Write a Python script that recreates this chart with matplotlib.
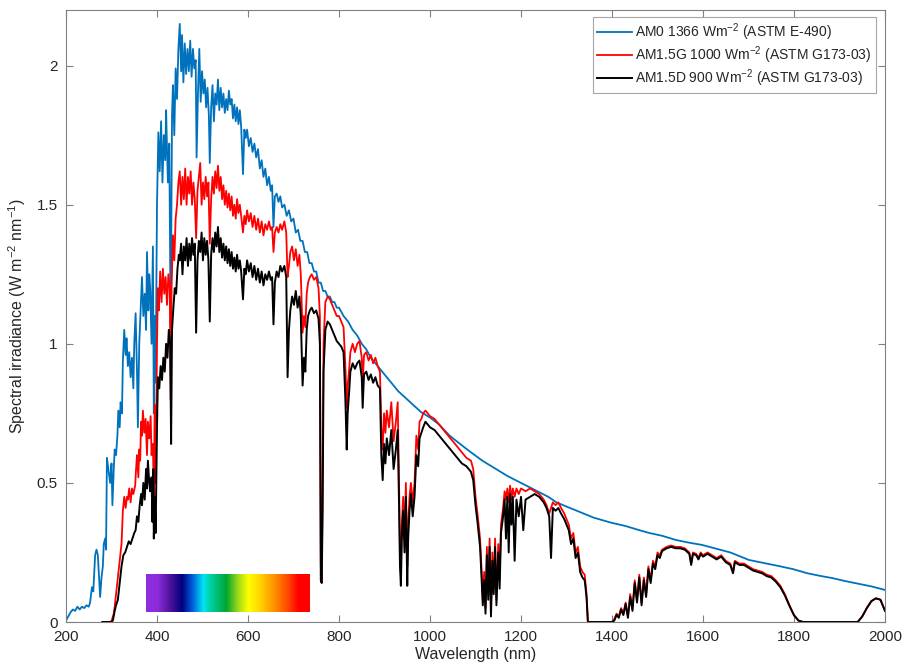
import matplotlib
matplotlib.use("Agg")
import matplotlib.pyplot as plt
import numpy as np
from matplotlib.colors import LinearSegmentedColormap

plt.rcParams['font.family'] = ['Liberation Sans', 'DejaVu Sans']
plt.rcParams['mathtext.fontset'] = 'custom'
plt.rcParams['mathtext.rm'] = 'Liberation Sans'
plt.rcParams['mathtext.default'] = 'regular'

# ---------------- data ----------------
am0_wl = [200, 205, 210, 215, 220, 225, 230, 235, 240, 245, 250, 253, 257, 260, 264, 267, 270, 273, 275, 278,
          281, 283, 286, 288, 290, 293, 297, 300, 302, 305, 307, 310, 313, 315, 318, 320, 323, 325, 328, 331,
          333, 336, 339, 342, 345, 348, 350, 353, 356, 358, 361, 364, 367, 370, 373, 376, 378, 381, 383, 385,
          388, 391, 393, 395, 397, 400, 403, 406, 409, 412, 415, 418, 420, 422, 424, 427, 430, 433, 435, 438,
          441, 444, 447, 450, 453, 455, 458, 461, 464, 467, 470, 473, 476, 479, 482, 485, 487, 490, 493, 496,
          499, 502, 505, 508, 511, 514, 516, 519, 522, 525, 528, 531, 534, 537, 540, 543, 546, 549, 552, 555,
          558, 561, 564, 567, 570, 573, 576, 579, 582, 585, 589, 592, 595, 598, 602, 606, 610, 614, 618, 622,
          626, 630, 634, 638, 642, 646, 650, 653, 656, 659, 663, 667, 671, 675, 680, 685, 690, 695, 700, 705,
          710, 715, 720, 725, 730, 735, 740, 745, 750, 755, 760, 765, 770, 775, 780, 785, 790, 795, 800, 810,
          820, 830, 840, 850, 860, 870, 880, 890, 900, 910, 920, 930, 940, 950, 960, 970, 980, 990, 1000, 1020,
          1043, 1070, 1090, 1115, 1140, 1170, 1200, 1230, 1260, 1278, 1300, 1330, 1360, 1398, 1430, 1460, 1482,
          1510, 1540, 1570, 1598, 1630, 1660, 1701, 1740, 1770, 1798, 1830, 1860, 1884, 1910, 1940, 1970, 1994, 2000]
am0_val = [0.005, 0.02, 0.035, 0.045, 0.04, 0.055, 0.045, 0.055, 0.05, 0.06, 0.055, 0.07, 0.125, 0.11, 0.24, 0.26, 0.24, 0.15, 0.09, 0.16,
           0.2, 0.28, 0.3, 0.26, 0.59, 0.55, 0.5, 0.57, 0.42, 0.55, 0.62, 0.6, 0.67, 0.76, 0.7, 0.79, 0.75, 0.94, 1.05, 0.96,
           1.02, 0.92, 0.97, 0.88, 0.95, 0.84, 1.0, 1.11, 0.9, 0.7, 1.0, 1.12, 1.24, 1.1, 1.18, 1.05, 1.33, 1.12, 1.25, 1.2,
           1.0, 1.35, 0.75, 1.1, 0.86, 1.5, 1.76, 1.62, 1.8, 1.58, 1.75, 1.66, 1.84, 1.7, 1.58, 1.72, 1.05, 1.82, 1.93, 1.75,
           1.99, 1.88, 2.06, 2.15, 1.98, 2.11, 1.94, 2.08, 1.97, 2.06, 1.98, 2.09, 1.96, 2.06, 1.99, 2.02, 1.67, 1.9, 2.06, 1.87,
           1.98, 1.9, 1.95, 1.85, 1.92, 1.82, 1.65, 1.85, 1.93, 1.8, 1.9, 1.86, 1.95, 1.84, 1.92, 1.85, 1.9, 1.83, 1.88, 1.84,
           1.91, 1.86, 1.88, 1.81, 1.86, 1.8, 1.85, 1.79, 1.84, 1.78, 1.61, 1.77, 1.74, 1.77, 1.71, 1.74, 1.69, 1.72, 1.67, 1.7,
           1.63, 1.66, 1.6, 1.63, 1.57, 1.6, 1.55, 1.57, 1.42, 1.53, 1.54, 1.51, 1.53, 1.49, 1.5, 1.46, 1.48, 1.44, 1.45, 1.4,
           1.41, 1.37, 1.37, 1.33, 1.33, 1.29, 1.29, 1.26, 1.26, 1.22, 1.22, 1.19, 1.19, 1.17, 1.17, 1.15, 1.15, 1.13, 1.13, 1.1,
           1.08, 1.05, 1.03, 1.0, 0.98, 0.95, 0.93, 0.91, 0.89, 0.87, 0.85, 0.83, 0.815, 0.8, 0.785, 0.77, 0.755, 0.745, 0.735, 0.71,
           0.67, 0.635, 0.61, 0.58, 0.555, 0.525, 0.5, 0.475, 0.45, 0.43, 0.415, 0.395, 0.375, 0.357, 0.345, 0.33, 0.32,
           0.31, 0.295, 0.285, 0.277, 0.263, 0.25, 0.223, 0.21, 0.2, 0.19, 0.175, 0.165, 0.158, 0.148, 0.138, 0.128, 0.118, 0.115]

g_wl = [280, 290, 295, 300, 305, 307, 310, 314, 318, 322, 325, 328, 331, 334, 336, 339, 342, 345, 348, 352,
        354, 356, 359, 361, 363, 365, 367, 369, 372, 375, 378, 380, 383, 386, 388, 391, 393, 395, 397, 400,
        402, 404, 407, 410, 413, 416, 419, 422, 425, 428, 430, 432, 435, 438, 441, 444, 447, 450, 453, 456,
        459, 462, 465, 468, 471, 474, 477, 480, 483, 486, 489, 492, 495, 498, 501, 504, 507, 510, 513, 516,
        519, 522, 525, 528, 531, 534, 537, 540, 543, 546, 549, 552, 555, 558, 561, 564, 567, 570, 573, 576,
        579, 582, 585, 589, 592, 595, 598, 602, 606, 610, 614, 618, 622, 626, 630, 634, 638, 642, 646, 650,
        653, 656, 659, 663, 667, 671, 675, 680, 684, 687, 690, 693, 697, 701, 705, 709, 713, 716, 720, 723,
        726, 729, 732, 736, 740, 745, 750, 755, 758, 760, 762, 764, 766, 770, 775, 780, 785, 790, 795, 800,
        805, 810, 814, 817, 819, 822, 825, 830, 835, 840, 845, 850, 852, 855, 860, 865, 870, 875, 880, 885,
        890, 893, 896, 899, 902, 905, 910, 915, 920, 925, 929, 932, 934, 936, 938, 941, 944, 947, 950, 952,
        955, 958, 962, 966, 970, 974, 977, 981, 985, 990, 995, 1000, 1010, 1020, 1030, 1040, 1050, 1060, 1070, 1080,
        1090, 1095, 1100, 1105, 1110, 1113, 1116, 1119, 1122, 1125, 1128, 1131, 1134, 1137, 1140, 1143, 1146, 1150, 1153, 1156,
        1160, 1164, 1167, 1170, 1173, 1176, 1179, 1182, 1186, 1190, 1195, 1200, 1210, 1220, 1230, 1240, 1250, 1256, 1262, 1266,
        1270, 1276, 1282, 1288, 1295, 1300, 1305, 1310, 1315, 1320, 1325, 1330, 1335, 1340, 1344, 1347, 1400, 1405, 1410, 1415,
        1420, 1425, 1430, 1435, 1440, 1445, 1450, 1455, 1460, 1465, 1470, 1475, 1480, 1485, 1490, 1495, 1500, 1505, 1510, 1520,
        1530, 1540, 1550, 1560, 1570, 1574, 1578, 1585, 1590, 1595, 1600, 1610, 1620, 1630, 1640, 1650, 1660, 1666, 1670, 1680,
        1690, 1700, 1710, 1720, 1730, 1740, 1750, 1760, 1770, 1780, 1790, 1800, 1810, 1820, 1940, 1945, 1950, 1960, 1970, 1980,
        1990, 1995, 2000]
g_val = [0.0, 0.0, 0.0, 0.003, 0.03, 0.055, 0.1, 0.16, 0.22, 0.28, 0.4, 0.45, 0.41, 0.45, 0.44, 0.48, 0.43, 0.48, 0.46, 0.49,
         0.55, 0.6, 0.52, 0.62, 0.58, 0.72, 0.67, 0.76, 0.68, 0.73, 0.6, 0.72, 0.66, 0.74, 0.6, 0.64, 0.45, 0.78, 0.5, 1.0,
         1.2, 1.12, 1.26, 1.15, 1.27, 1.18, 1.24, 1.14, 1.25, 1.2, 0.8, 1.2, 1.39, 1.3, 1.45, 1.5, 1.58, 1.62, 1.5, 1.6,
         1.52, 1.63, 1.5, 1.6, 1.54, 1.62, 1.5, 1.58, 1.52, 1.38, 1.55, 1.6, 1.65, 1.5, 1.58, 1.52, 1.6, 1.53, 1.58, 1.36,
         1.52, 1.6, 1.54, 1.62, 1.56, 1.64, 1.55, 1.6, 1.52, 1.57, 1.5, 1.55, 1.49, 1.54, 1.48, 1.53, 1.46, 1.5, 1.45, 1.52,
         1.47, 1.5, 1.46, 1.4, 1.46, 1.43, 1.48, 1.44, 1.47, 1.42, 1.46, 1.41, 1.45, 1.4, 1.44, 1.39, 1.43, 1.41, 1.44, 1.41,
         1.42, 1.33, 1.4, 1.42, 1.4, 1.43, 1.41, 1.44, 1.4, 1.24, 1.28, 1.33, 1.35, 1.3, 1.34, 1.28, 1.32, 1.25, 1.04, 1.1,
         1.06, 1.18, 1.22, 1.24, 1.25, 1.23, 1.24, 1.2, 1.1, 0.2, 0.15, 0.5, 1.0, 1.15, 1.17, 1.16, 1.14, 1.12, 1.1, 1.1,
         1.08, 1.06, 0.92, 0.77, 0.85, 0.9, 0.97, 1.0, 0.97, 1.0, 1.01, 0.95, 0.86, 0.96, 0.97, 0.94, 0.96, 0.93, 0.95, 0.92,
         0.9, 0.7, 0.62, 0.75, 0.68, 0.76, 0.7, 0.79, 0.65, 0.72, 0.79, 0.5, 0.25, 0.18, 0.35, 0.45, 0.3, 0.5, 0.2, 0.35,
         0.45, 0.5, 0.43, 0.5, 0.67, 0.62, 0.72, 0.73, 0.75, 0.76, 0.75, 0.74, 0.73, 0.71, 0.69, 0.67, 0.65, 0.63, 0.61, 0.59,
         0.58, 0.55, 0.45, 0.38, 0.3, 0.2, 0.08, 0.18, 0.05, 0.27, 0.1, 0.3, 0.04, 0.25, 0.12, 0.3, 0.08, 0.28, 0.15, 0.35,
         0.4, 0.47, 0.44, 0.48, 0.43, 0.49, 0.44, 0.48, 0.45, 0.48, 0.46, 0.48, 0.47, 0.48, 0.47, 0.46, 0.44, 0.42, 0.39, 0.41,
         0.43, 0.42, 0.43, 0.41, 0.39, 0.37, 0.35, 0.3, 0.32, 0.25, 0.27, 0.2, 0.18, 0.17, 0.1, 0.0, 0.0, 0.01, 0.03, 0.02,
         0.05, 0.03, 0.07, 0.02, 0.1, 0.05, 0.15, 0.08, 0.17, 0.07, 0.16, 0.1, 0.2, 0.15, 0.22, 0.2, 0.25, 0.24, 0.26, 0.27,
         0.275, 0.27, 0.27, 0.265, 0.25, 0.21, 0.25, 0.245, 0.23, 0.25, 0.24, 0.25, 0.24, 0.23, 0.24, 0.22, 0.21, 0.18, 0.22, 0.21,
         0.21, 0.2, 0.19, 0.185, 0.18, 0.17, 0.165, 0.15, 0.13, 0.1, 0.06, 0.025, 0.005, 0.0, 0.0, 0.01, 0.02, 0.05, 0.075, 0.085,
         0.08, 0.06, 0.04]

d_wl = [280, 300, 303, 307, 310, 314, 318, 322, 326, 330, 334, 338, 342, 346, 350, 353, 356, 359, 362, 365,
        367, 370, 373, 376, 378, 380, 383, 385, 388, 390, 392, 393, 395, 397, 400, 402, 405, 408, 411, 414,
        417, 420, 423, 426, 429, 431, 433, 436, 439, 442, 445, 448, 450, 453, 456, 459, 462, 465, 468, 471,
        474, 477, 480, 483, 486, 489, 492, 495, 498, 501, 504, 507, 510, 513, 516, 519, 522, 525, 528, 531,
        534, 537, 540, 543, 546, 549, 552, 555, 558, 561, 564, 567, 570, 573, 576, 579, 582, 585, 589, 592,
        595, 598, 602, 606, 610, 614, 618, 622, 626, 630, 634, 638, 642, 646, 650, 653, 656, 659, 663, 667,
        671, 675, 680, 684, 687, 690, 693, 697, 701, 705, 709, 713, 716, 720, 723, 726, 729, 732, 736, 740,
        745, 750, 755, 758, 760, 762, 764, 766, 770, 775, 780, 785, 790, 795, 800, 805, 810, 814, 817, 819,
        822, 825, 830, 835, 840, 845, 850, 852, 855, 860, 865, 870, 875, 880, 885, 890, 893, 896, 899, 902,
        905, 910, 915, 920, 925, 929, 932, 934, 936, 938, 941, 944, 947, 950, 952, 955, 958, 962, 966, 970,
        974, 977, 981, 985, 990, 995, 1000, 1010, 1020, 1030, 1040, 1050, 1060, 1070, 1080, 1090, 1095, 1100, 1105, 1110,
        1113, 1116, 1119, 1122, 1125, 1128, 1131, 1134, 1137, 1140, 1143, 1146, 1150, 1153, 1156, 1160, 1164, 1167, 1170, 1173,
        1176, 1179, 1182, 1186, 1190, 1195, 1200, 1205, 1210, 1220, 1230, 1240, 1250, 1256, 1262, 1266, 1270, 1276, 1282, 1288,
        1295, 1300, 1305, 1310, 1315, 1320, 1325, 1330, 1335, 1340, 1344, 1347, 1400, 1405, 1410, 1415, 1420, 1425, 1430, 1435,
        1440, 1445, 1450, 1455, 1460, 1465, 1470, 1475, 1480, 1485, 1490, 1495, 1500, 1505, 1510, 1520, 1530, 1540, 1550, 1560,
        1570, 1574, 1578, 1585, 1590, 1595, 1600, 1610, 1620, 1630, 1640, 1650, 1660, 1666, 1670, 1680, 1690, 1700, 1710, 1720,
        1730, 1740, 1750, 1760, 1770, 1780, 1790, 1800, 1810, 1820, 1940, 1945, 1950, 1960, 1970, 1980, 1990, 1995, 2000]
d_val = [0.0, 0.0, 0.005, 0.04, 0.06, 0.08, 0.14, 0.2, 0.24, 0.25, 0.27, 0.29, 0.28, 0.3, 0.32, 0.33, 0.38, 0.36, 0.42, 0.46,
         0.42, 0.5, 0.44, 0.55, 0.48, 0.58, 0.5, 0.47, 0.52, 0.36, 0.55, 0.3, 0.45, 0.32, 0.7, 0.88, 0.84, 0.92, 0.87, 0.95,
         0.9, 1.0, 0.95, 1.05, 1.0, 0.64, 1.05, 1.13, 1.2, 1.18, 1.27, 1.32, 1.3, 1.36, 1.25, 1.35, 1.3, 1.38, 1.28, 1.36,
         1.3, 1.38, 1.32, 1.36, 1.04, 1.3, 1.37, 1.33, 1.4, 1.3, 1.38, 1.32, 1.37, 1.3, 1.08, 1.32, 1.38, 1.33, 1.4, 1.35,
         1.42, 1.33, 1.38, 1.31, 1.36, 1.3, 1.35, 1.29, 1.34, 1.28, 1.33, 1.27, 1.31, 1.26, 1.32, 1.27, 1.3, 1.26, 1.16, 1.27,
         1.25, 1.3, 1.26, 1.29, 1.24, 1.28, 1.23, 1.27, 1.22, 1.26, 1.21, 1.25, 1.23, 1.26, 1.23, 1.24, 1.07, 1.22, 1.26, 1.24,
         1.28, 1.26, 1.28, 1.24, 0.88, 1.05, 1.12, 1.17, 1.14, 1.19, 1.13, 1.17, 1.1, 0.85, 0.95, 0.9, 1.05, 1.1, 1.12, 1.13,
         1.11, 1.12, 1.09, 1.0, 0.15, 0.14, 0.4, 0.9, 1.05, 1.08, 1.07, 1.05, 1.03, 1.01, 1.0, 0.99, 0.97, 0.8, 0.62, 0.75,
         0.82, 0.9, 0.93, 0.91, 0.93, 0.94, 0.88, 0.77, 0.89, 0.9, 0.87, 0.89, 0.86, 0.88, 0.85, 0.84, 0.6, 0.51, 0.64, 0.57,
         0.66, 0.6, 0.69, 0.55, 0.62, 0.69, 0.42, 0.2, 0.13, 0.3, 0.4, 0.25, 0.45, 0.13, 0.3, 0.4, 0.46, 0.38, 0.45, 0.6,
         0.56, 0.66, 0.68, 0.7, 0.72, 0.71, 0.7, 0.69, 0.67, 0.65, 0.63, 0.61, 0.59, 0.57, 0.56, 0.54, 0.51, 0.42, 0.35, 0.27,
         0.17, 0.06, 0.15, 0.03, 0.24, 0.08, 0.27, 0.02, 0.22, 0.1, 0.27, 0.06, 0.25, 0.12, 0.32, 0.37, 0.44, 0.3, 0.45, 0.25,
         0.46, 0.35, 0.45, 0.22, 0.44, 0.38, 0.45, 0.33, 0.44, 0.45, 0.46, 0.45, 0.43, 0.41, 0.38, 0.23, 0.41, 0.4, 0.41, 0.39,
         0.37, 0.35, 0.33, 0.28, 0.3, 0.23, 0.25, 0.18, 0.16, 0.15, 0.09, 0.0, 0.0, 0.005, 0.025, 0.015, 0.045, 0.025, 0.065, 0.015,
         0.09, 0.04, 0.14, 0.07, 0.16, 0.06, 0.15, 0.09, 0.19, 0.14, 0.21, 0.19, 0.24, 0.23, 0.255, 0.265, 0.27, 0.265, 0.265, 0.26,
         0.245, 0.205, 0.245, 0.24, 0.225, 0.245, 0.235, 0.245, 0.235, 0.225, 0.235, 0.215, 0.205, 0.175, 0.215, 0.205, 0.205, 0.195, 0.185, 0.18,
         0.175, 0.165, 0.16, 0.145, 0.125, 0.095, 0.058, 0.024, 0.005, 0.0, 0.0, 0.01, 0.02, 0.05, 0.075, 0.085, 0.08, 0.06, 0.04]

labels = ['AM0 1366 Wm$^{-2}$ (ASTM E-490)',
          'AM1.5G 1000 Wm$^{-2}$ (ASTM G173-03)',
          'AM1.5D 900 Wm$^{-2}$ (ASTM G173-03)']
colors = ['#0072BD', '#FF0000', '#000000']

# visible spectrum strip (nm range and y range)
strip_nm = [375, 735]
strip_y = [0.035, 0.17]
strip_stops = [0.0, 0.07, 0.14, 0.22, 0.28, 0.35, 0.40, 0.49, 0.56, 0.625, 0.69, 0.79, 0.875, 0.93, 1.0]
strip_colors = [(0.56, 0.18, 0.88), (0.55, 0.17, 0.86), (0.33, 0.08, 0.62), (0.0, 0.0, 0.5), (0.0, 0.35, 0.85),
                (0.0, 0.9, 0.95), (0.0, 0.8, 0.6), (0.0, 0.65, 0.2), (0.6, 0.85, 0.1), (1.0, 1.0, 0.0),
                (1.0, 0.85, 0.0), (1.0, 0.55, 0.0), (1.0, 0.25, 0.0), (1.0, 0.0, 0.0), (1.0, 0.0, 0.0)]

# ---------------- plot ----------------
fig = plt.figure(figsize=(9.06, 6.70), dpi=100)
ax = fig.add_axes([66/906, 1-622/670, (885-66)/906, (622-10)/670])

ax.plot(am0_wl, am0_val, color=colors[0], lw=1.3, label=labels[0])
ax.plot(g_wl, g_val, color=colors[1], lw=1.3, label=labels[1])
ax.plot(d_wl, d_val, color=colors[2], lw=1.4, label=labels[2])

cmap = LinearSegmentedColormap.from_list('vis', list(zip(strip_stops, strip_colors)))
grad = np.linspace(0, 1, 512).reshape(1, -1)
ax.imshow(grad, cmap=cmap, aspect='auto', extent=[strip_nm[0], strip_nm[1], strip_y[0], strip_y[1]],
          zorder=3, interpolation='bilinear')

ax.set_xlim(200, 2000)
ax.set_ylim(0, 2.2)
ax.set_xticks(np.arange(200, 2001, 200))
ax.set_yticks([0, 0.5, 1, 1.5, 2])
ax.set_yticklabels(['0', '0.5', '1', '1.5', '2'])

axcol = '#262626'
for s in ax.spines.values():
    s.set_color('#808080')
    s.set_linewidth(0.8)
ax.tick_params(direction='in', top=True, right=True, labelsize=11, colors=axcol,
               length=5, width=0.8, pad=6)
ax.tick_params(axis='both', color='#808080')

ax.set_xlabel('Wavelength (nm)', fontsize=11.5, color=axcol, labelpad=2)
ax.set_ylabel('Spectral irradiance (W m$^{-2}$ nm$^{-1}$)', fontsize=11.5, color=axcol, labelpad=6)

leg = ax.legend(loc='upper right', fontsize=10, frameon=True, fancybox=False,
                bbox_to_anchor=(876/906, 1-17/670), bbox_transform=fig.transFigure, borderaxespad=0,
                handlelength=2.5, handletextpad=0.25, borderpad=0.3, labelspacing=0.12)
leg.get_frame().set_edgecolor('#909090')
leg.get_frame().set_linewidth(0.8)
for t in leg.get_texts():
    t.set_color(axcol)

fig.savefig('out.png', dpi=100)
